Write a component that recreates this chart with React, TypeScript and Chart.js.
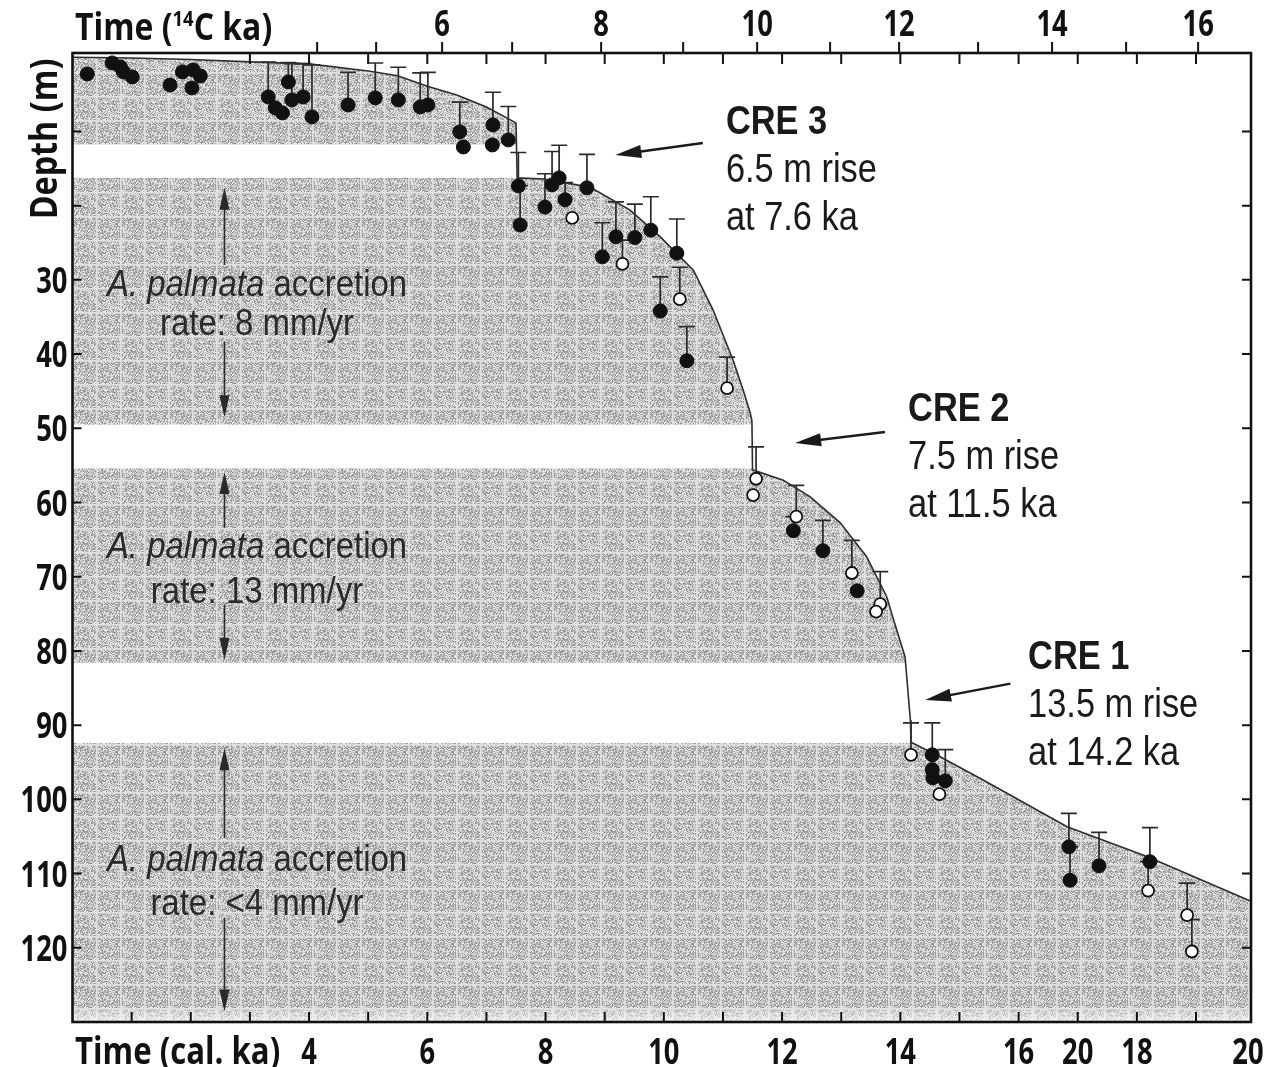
import React, { useEffect, useRef } from "react";
import { Chart, registerables } from "chart.js";

Chart.register(...registerables);

// ---- Sea-level curve (time in cal. ka, depth in m) ----
const curveTime = [0, 1, 2, 3, 4, 5, 5.5, 6, 6.5, 7, 7.5, 7.52, 7.96, 8.75, 9.43, 9.94, 10.5, 10.83, 11.17, 11.34, 11.46, 11.49, 11.5, 12.02, 12.47, 12.98, 13.43, 13.77, 13.87, 14.08, 14.15, 14.17, 14.18, 14.68, 15.4, 16.82, 18.17, 19.86, 20];
const curveDepth = [0.0, 0.1, 0.3, 0.63, 0.9, 1.85, 2.5, 3.9, 5.1, 6.7, 8.85, 16.26, 16.4, 17.5, 20.6, 24.2, 28.7, 34.0, 40.8, 44.8, 47.9, 49.0, 55.6, 57.0, 59.2, 62.7, 67.3, 72.7, 75.4, 80.8, 87.5, 89.3, 92.3, 94.3, 97.4, 103.7, 107.7, 113.5, 113.9];

// ---- Acropora palmata samples (solid) ----
const filledTime = [0.25, 0.67, 0.81, 0.86, 1.01, 1.65, 1.86, 2.04, 2.16, 2.02, 3.31, 3.43, 3.55, 3.65, 3.71, 3.9, 4.05, 4.66, 5.12, 5.51, 5.88, 6.01, 6.55, 6.61, 7.11, 7.1, 7.37, 7.54, 7.57, 7.99, 8.11, 8.23, 8.33, 8.7, 8.96, 9.19, 9.51, 9.78, 9.94, 10.22, 10.39, 12.19, 12.69, 13.27, 14.54, 14.54, 14.55, 14.76, 16.85, 16.87, 17.36, 18.22];
const filledDepth = [2.25, 0.77, 1.3, 1.98, 2.65, 3.75, 1.98, 1.71, 2.52, 4.14, 5.35, 6.83, 7.5, 3.33, 5.75, 5.35, 8.04, 6.43, 5.48, 5.75, 6.7, 6.43, 10.06, 12.09, 9.12, 11.82, 11.14, 17.34, 22.6, 20.2, 17.2, 16.26, 19.2, 17.6, 26.9, 24.2, 24.3, 23.3, 34.2, 26.4, 40.9, 63.8, 66.5, 71.9, 94.0, 96.0, 97.1, 97.5, 106.4, 110.9, 108.96, 108.4];
const filledErrUp = [0, 0, 0, 0, 0, 0, 0, 0, 0, 0, 4.7, 0, 0, 2.6, 4.9, 4.5, 7.0, 4.4, 4.7, 4.4, 4.6, 4.4, 4.0, 0, 4.4, 0, 4.5, 4.5, 5.3, 4.5, 4.5, 4.4, 2.3, 4.5, 4.6, 4.7, 4.5, 4.5, 4.6, 4.6, 4.6, 1.9, 4.1, 0, 4.3, 0, 0, 4.2, 4.5, 4.5, 4.5, 4.6];

// ---- samples (open) ----
const openTime = [8.45, 9.3, 10.27, 11.07, 11.56, 11.51, 12.24, 13.18, 13.66, 13.59, 14.18, 14.66, 18.19, 18.85, 18.93];
const openDepth = [21.65, 27.85, 32.6, 44.6, 56.8, 59.0, 61.9, 69.5, 73.7, 74.7, 94.0, 99.3, 112.3, 115.6, 120.5];
const openErrUp = [0, 3.2, 4.3, 4.2, 4.3, 0, 4.2, 4.4, 4.4, 0, 4.3, 0, 3.9, 4.3, 4.3];

// ---- white gaps (depth ranges, m) ----
const gapTop = [11.8, 49.5, 81.6];
const gapBottom = [16.26, 55.4, 92.4];

// ---- axes ----
const depthTickValues = [10, 20, 30, 40, 50, 60, 70, 80, 90, 100, 110, 120];
const depthLabelValues = [30, 40, 50, 60, 70, 80, 90, 100, 110, 120];
const calTickValues = [1, 2, 3, 4, 5, 6, 7, 8, 9, 10, 11, 12, 13, 14, 15, 16, 17, 18, 19];
const calLabelAt = [4, 6, 8, 10, 12, 14, 16, 17, 18, 20];
const calLabelText = ["4", "6", "8", "10", "12", "14", "16", "20", "18", "20"];
const topInnerTickValues = [3, 4, 5, 6, 7, 8, 9, 10, 11, 12, 13, 14, 15, 16, 17, 18, 19];
const c14Values = [4, 5, 6, 7, 8, 9, 10, 11, 12, 13, 14, 15, 16];
const c14CalPosition = [4.137, 5.135, 6.251, 7.435, 8.94, 10.327, 11.578, 12.812, 13.979, 15.315, 16.566, 17.818, 19.036];
const c14Labelled = [6, 8, 10, 12, 14, 16];

// ---- annotations ----
const creLines = [
  ["CRE 3", "6.5 m rise", "at 7.6 ka"],
  ["CRE 2", "7.5 m rise", "at 11.5 ka"],
  ["CRE 1", "13.5 m rise", "at 14.2 ka"],
];
const creTextTime = [11.05, 14.13, 16.16];
const creTextDepth = [8.45, 47.1, 80.5];
const creArrowTail = [[10.66, 11.56], [13.74, 50.5], [15.86, 84.4]];
const creArrowHead = [[9.18, 13.17], [12.22, 51.97], [14.42, 86.6]];

const rateText = ["rate: 8 mm/yr", "rate: 13 mm/yr", "rate: <4 mm/yr"];
const rateCenterTime = 3.12;
const rateLine1Depth = [30.4, 65.7, 107.9];
const rateLine2Depth = [35.7, 71.8, 113.8];
const rateArrowTime = 2.57;
const rateUpFrom = [28.0, 63.4, 105.2];
const rateUpTo = [17.6, 55.9, 93.1];
const rateDownFrom = [38.3, 73.8, 116.0];
const rateDownTo = [48.5, 81.2, 128.6];

type Run = { t: string; f: string; dy?: number };

function drawRuns(ctx: CanvasRenderingContext2D, runs: Run[], x: number, y: number, sx: number, align: string, color: string) {
  ctx.save();
  ctx.fillStyle = color;
  ctx.textBaseline = "alphabetic";
  ctx.textAlign = "left";
  let total = 0;
  const widths = runs.map((r) => {
    ctx.font = r.f;
    const w = ctx.measureText(r.t).width * sx;
    total += w;
    return w;
  });
  let cur = align === "center" ? x - total / 2 : align === "right" ? x - total : x;
  runs.forEach((r, i) => {
    ctx.save();
    ctx.font = r.f;
    ctx.translate(cur, y + (r.dy || 0));
    ctx.scale(sx, 1);
    ctx.fillText(r.t, 0, 0);
    ctx.restore();
    cur += widths[i];
  });
  ctx.restore();
}

function arrow(ctx: CanvasRenderingContext2D, x1: number, y1: number, x2: number, y2: number, hl: number, hw: number, lw: number, color: string) {
  const a = Math.atan2(y2 - y1, x2 - x1);
  const bx = x2 - hl * Math.cos(a);
  const by = y2 - hl * Math.sin(a);
  ctx.save();
  ctx.strokeStyle = color;
  ctx.fillStyle = color;
  ctx.lineWidth = lw;
  ctx.beginPath();
  ctx.moveTo(x1, y1);
  ctx.lineTo(bx + 2 * Math.cos(a), by + 2 * Math.sin(a));
  ctx.stroke();
  ctx.beginPath();
  ctx.moveTo(x2, y2);
  ctx.lineTo(bx + (hw / 2) * Math.sin(a), by - (hw / 2) * Math.cos(a));
  ctx.lineTo(bx - (hw / 2) * Math.sin(a), by + (hw / 2) * Math.cos(a));
  ctx.closePath();
  ctx.fill();
  ctx.restore();
}

function makePattern(): CanvasPattern | string {
  const S = 48;
  const c = document.createElement("canvas");
  c.width = S;
  c.height = S;
  const g = c.getContext("2d");
  if (!g) return "#b8b8b8";
  const img = g.createImageData(S, S);
  for (let j = 0; j < S; j++) {
    for (let i = 0; i < S; i++) {
      let h = Math.imul(i + 17, 374761393) ^ Math.imul(j + 31, 668265263);
      h = Math.imul(h ^ (h >>> 13), 1274126177);
      h = h ^ (h >>> 16);
      const r = ((h >>> 0) % 1000) / 1000;
      // mottled stipple, two-tone
      let v = r < 0.45 ? 140 + r * 80 : 198 + (r - 0.45) * 70;
      const li = i % 24;
      const lj = j % 24;
      if (li === 0 || lj === 0) v = Math.max(v, 222);
      else if (li === 1 || lj === 1) v = Math.max(v, 205);
      const k = (j * S + i) * 4;
      img.data[k] = v;
      img.data[k + 1] = v;
      img.data[k + 2] = v;
      img.data[k + 3] = 255;
    }
  }
  g.putImageData(img, 0, 0);
  const p = g.createPattern(c, "repeat");
  return p || "#b8b8b8";
}

const AXIS_FONT = '"Open Sans", "DejaVu Sans", sans-serif';
const ANN_FONT = '"Liberation Sans", Arial, Helvetica, sans-serif';

const figurePlugin = {
  id: "figurePlugin",
  beforeDatasetsDraw(chart: any) {
    const { ctx, chartArea: ca, scales } = chart;
    const xs = scales.x;
    const ys = scales.y;
    ctx.save();
    // white gaps in the shading
    ctx.fillStyle = "#ffffff";
    for (let i = 0; i < gapTop.length; i++) {
      const y1 = ys.getPixelForValue(gapTop[i]);
      const y2 = ys.getPixelForValue(gapBottom[i]);
      ctx.fillRect(ca.left, y1, ca.right - ca.left, y2 - y1);
    }
    // faded strip at the bottom of the shading
    const gr = ctx.createLinearGradient(0, ca.bottom - 16, 0, ca.bottom);
    gr.addColorStop(0, "rgba(255,255,255,0)");
    gr.addColorStop(1, "rgba(255,255,255,0.75)");
    ctx.fillStyle = gr;
    ctx.fillRect(ca.left, ca.bottom - 16, ca.right - ca.left, 16);
    // error bars (upward only)
    ctx.strokeStyle = "#2a2a2a";
    ctx.lineWidth = 1.7;
    chart.data.datasets.forEach((ds: any) => {
      if (!ds.errUp) return;
      ds.data.forEach((p: any, i: number) => {
        const e = ds.errUp[i];
        if (!e) return;
        const x = xs.getPixelForValue(p.x);
        const yb = ys.getPixelForValue(p.y);
        const yt = ys.getPixelForValue(p.y - e);
        ctx.beginPath();
        ctx.moveTo(x, yb);
        ctx.lineTo(x, yt);
        ctx.moveTo(x - 8, yt);
        ctx.lineTo(x + 8, yt);
        ctx.stroke();
      });
    });
    ctx.restore();
  },
  afterDraw(chart: any) {
    const { ctx, chartArea: ca, scales } = chart;
    const xs = scales.x;
    const ys = scales.y;
    const X = (v: number) => xs.getPixelForValue(v);
    const Y = (v: number) => ys.getPixelForValue(v);
    ctx.save();
    // frame
    ctx.strokeStyle = "#111";
    ctx.lineWidth = 2.6;
    ctx.strokeRect(ca.left, ca.top, ca.right - ca.left, ca.bottom - ca.top);
    // ticks
    ctx.lineWidth = 2;
    ctx.beginPath();
    depthTickValues.forEach((v) => {
      const y = Y(v);
      ctx.moveTo(ca.left, y);
      ctx.lineTo(ca.left + 9, y);
      ctx.moveTo(ca.right, y);
      ctx.lineTo(ca.right - 9, y);
    });
    calTickValues.forEach((v) => {
      const x = X(v);
      ctx.moveTo(x, ca.bottom);
      ctx.lineTo(x, ca.bottom - 10);
    });
    topInnerTickValues.forEach((v) => {
      const x = X(v);
      ctx.moveTo(x, ca.top);
      ctx.lineTo(x, ca.top + 11);
    });
    c14CalPosition.forEach((v) => {
      const x = X(v);
      ctx.moveTo(x, ca.top);
      ctx.lineTo(x, ca.top - 11);
    });
    ctx.stroke();

    const tickFont = `bold 36px ${AXIS_FONT}`;
    const tsx = 0.76;
    // depth labels
    depthLabelValues.forEach((v) => {
      drawRuns(ctx, [{ t: String(v), f: tickFont }], ca.left - 5, Y(v) + 13, tsx, "right", "#111");
    });
    // bottom labels
    calLabelAt.forEach((v, i) => {
      const x = Math.min(X(v), 1248);
      drawRuns(ctx, [{ t: calLabelText[i], f: tickFont }], x, 1064, tsx, "center", "#111");
    });
    // top labels (14C ka)
    c14Values.forEach((v, i) => {
      if (c14Labelled.indexOf(v) < 0) return;
      drawRuns(ctx, [{ t: String(v), f: tickFont }], X(c14CalPosition[i]), 36, tsx, "center", "#111");
    });
    // axis titles
    const titleFont = `bold 38px ${AXIS_FONT}`;
    const supFont = `bold 22px ${AXIS_FONT}`;
    drawRuns(
      ctx,
      [
        { t: "Time (", f: titleFont },
        { t: "14", f: supFont, dy: -14 },
        { t: "C ka)", f: titleFont },
      ],
      75,
      40,
      0.84,
      "left",
      "#111"
    );
    drawRuns(ctx, [{ t: "Time (cal. ka)", f: titleFont }], 75, 1064, 0.82, "left", "#111");
    ctx.save();
    ctx.translate(57, 139);
    ctx.rotate(-Math.PI / 2);
    drawRuns(ctx, [{ t: "Depth (m)", f: titleFont }], 0, 0, 0.85, "center", "#111");
    ctx.restore();

    // CRE annotations
    const creBold = `bold 40px ${ANN_FONT}`;
    const creReg = `40px ${ANN_FONT}`;
    creLines.forEach((lines, k) => {
      const x = X(creTextTime[k]);
      const y0 = Y(creTextDepth[k]);
      lines.forEach((s, j) => {
        drawRuns(ctx, [{ t: s, f: j === 0 ? creBold : creReg }], x, y0 + 14 + j * 48, 0.86, "left", "#1a1a1a");
      });
      arrow(ctx, X(creArrowTail[k][0]), Y(creArrowTail[k][1]), X(creArrowHead[k][0]), Y(creArrowHead[k][1]), 26, 13, 2.4, "#1a1a1a");
    });

    // accretion-rate annotations
    const rateIt = `italic 37px ${ANN_FONT}`;
    const rateReg = `37px ${ANN_FONT}`;
    rateText.forEach((s, k) => {
      const cx = X(rateCenterTime);
      drawRuns(
        ctx,
        [
          { t: "A. palmata", f: rateIt },
          { t: " accretion", f: rateReg },
        ],
        cx,
        Y(rateLine1Depth[k]) + 13,
        0.89,
        "center",
        "#2a2a2a"
      );
      drawRuns(ctx, [{ t: s, f: rateReg }], cx, Y(rateLine2Depth[k]) + 13, 0.89, "center", "#2a2a2a");
      const ax = X(rateArrowTime);
      arrow(ctx, ax, Y(rateUpFrom[k]), ax, Y(rateUpTo[k]), 22, 10, 1.6, "#2a2a2a");
      arrow(ctx, ax, Y(rateDownFrom[k]), ax, Y(rateDownTo[k]), 22, 10, 1.6, "#2a2a2a");
    });
    ctx.restore();
  },
};

export default function App() {
  const ref = useRef<HTMLCanvasElement>(null);
  useEffect(() => {
    const canvas = ref.current;
    if (!canvas) return;
    const pattern = makePattern();
    const chart = new Chart(canvas, {
      type: "line",
      data: {
        datasets: [
          {
            label: "Sea level",
            data: curveTime.map((t, i) => ({ x: t, y: curveDepth[i] })),
            borderColor: "#2e2e2e",
            borderWidth: 1.6,
            pointRadius: 0,
            tension: 0,
            fill: { value: 130 },
            backgroundColor: pattern as any,
            order: 3,
          } as any,
          {
            label: "A. palmata (solid)",
            data: filledTime.map((t, i) => ({ x: t, y: filledDepth[i] })),
            errUp: filledErrUp,
            showLine: false,
            pointRadius: 7,
            pointBackgroundColor: "#111",
            pointBorderColor: "#111",
            pointBorderWidth: 1,
            order: 2,
          } as any,
          {
            label: "A. palmata (open)",
            data: openTime.map((t, i) => ({ x: t, y: openDepth[i] })),
            errUp: openErrUp,
            showLine: false,
            pointRadius: 6,
            pointBackgroundColor: "#fff",
            pointBorderColor: "#111",
            pointBorderWidth: 1.8,
            order: 1,
          } as any,
        ],
      },
      options: {
        responsive: false,
        animation: false,
        events: [],
        layout: { padding: { left: 72.5, top: 53, right: 20, bottom: 45 } },
        scales: {
          x: { type: "linear", min: 0, max: 19.93, display: false },
          y: { type: "linear", min: -0.57, max: 130, reverse: true, display: false },
        },
        plugins: {
          legend: { display: false },
          tooltip: { enabled: false },
          filler: { drawTime: "beforeDatasetsDraw" },
        } as any,
      },
      plugins: [figurePlugin],
    });
    return () => chart.destroy();
  }, []);
  return (
    <div style={{ position: "absolute", left: 0, top: 0, width: 1271, height: 1067, background: "#fff" }}>
      <canvas ref={ref} width={1271} height={1067} style={{ display: "block" }} />
    </div>
  );
}
